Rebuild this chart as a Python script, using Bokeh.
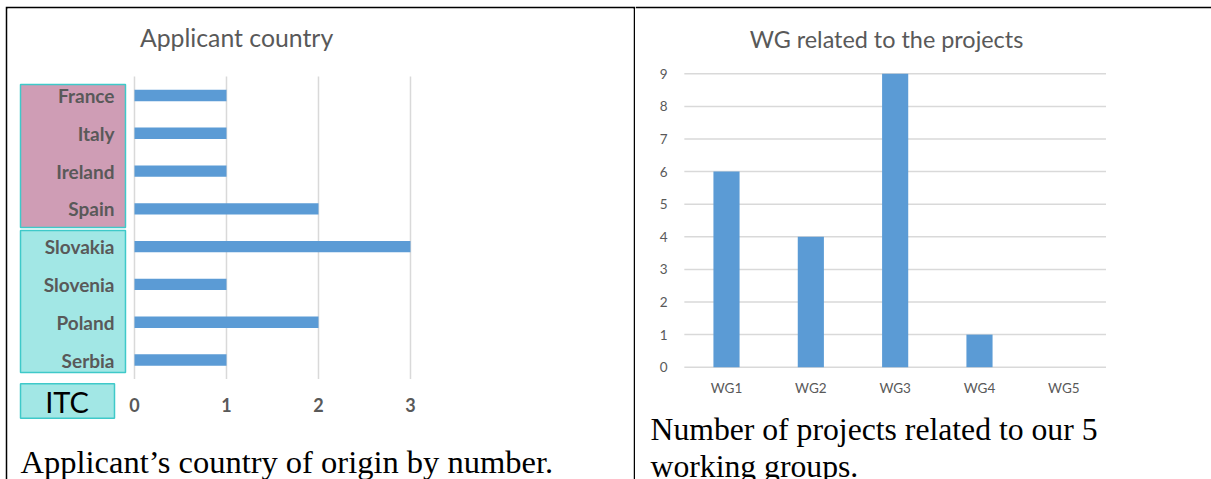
from bokeh.plotting import figure
from bokeh.models import Range1d, Spacer
from bokeh.layouts import column, row
from bokeh.core.properties import value
from bokeh.embed import file_html
from bokeh.resources import INLINE

# ---------------- data ----------------
countries = ["France", "Italy", "Ireland", "Spain", "Slovakia", "Slovenia", "Poland", "Serbia"]
applicants = [1, 1, 1, 2, 3, 1, 2, 1]
itc_member = [False, False, False, False, True, True, True, True]
x_ticks = [0, 1, 2, 3]

wgs = ["WG1", "WG2", "WG3", "WG4", "WG5"]
projects = [6, 4, 9, 1, 0]
y_ticks = [0, 1, 2, 3, 4, 5, 6, 7, 8, 9]

left_title = "Applicant country"
left_caption = "Applicant\u2019s country of origin by number."
itc_label = "ITC"
right_title = "WG related to the projects"
right_caption = ["Number of projects related to our 5", "working groups."]

# ---------------- styles ----------------
GRAY = "#595959"
GRID = "#d9d9d9"
BLUE = "#5b9bd5"
PINK = "#cf9db5"
CYAN = "#a2e7e5"
TEAL = "#3fc9c9"
SANS = "Lato"
SERIF = "Liberation Serif"


def cell(width, height, x_range, y_range, left, right, top):
    f = figure(width=width, height=height, x_range=x_range, y_range=y_range,
               x_axis_location=None, y_axis_location=None,
               min_border_left=left, min_border_right=right,
               min_border_top=top, min_border_bottom=0,
               border_fill_color="black", background_fill_color="white",
               outline_line_color=None, toolbar_location=None, output_backend="svg")
    f.grid.visible = False
    return f


# ---------------- left cell: applicant country ----------------
pos = list(range(len(countries)))
L = cell(630, 473, Range1d(-1.3804, 5.4239), Range1d(10.1614, -2.3022), 2, 2, 2)

non_itc = [i for i, m in enumerate(itc_member) if not m]
itc = [i for i, m in enumerate(itc_member) if m]
L.quad(left=-1.239, right=-0.098, top=min(non_itc) - 0.291, bottom=max(non_itc) + 0.493,
       fill_color=PINK, line_color=TEAL, line_width=1.5)
L.quad(left=-1.239, right=-0.098, top=min(itc) - 0.428, bottom=max(itc) + 0.33,
       fill_color=CYAN, line_color=TEAL, line_width=1.5)

L.segment(x0=x_ticks, x1=x_ticks, y0=-0.5, y1=len(countries) - 0.5,
          line_color=GRID, line_width=1.5)
L.hbar(y=pos, left=0, right=applicants, height=0.3, fill_color=BLUE, line_color=None)

L.text(x=-0.2174, y=pos, text=countries, text_align="right", text_baseline="middle",
       text_font=value(SANS), text_font_style="bold", text_font_size=value("19px"),
       text_color=GRAY)
L.text(x=x_ticks, y=8.203, text=[str(t) for t in x_ticks], text_align="center",
       text_baseline="middle", text_font=value(SANS), text_font_style="bold",
       text_font_size=value("18px"), text_color=GRAY)

L.quad(left=-1.239, right=-0.2174, top=7.629, bottom=8.539,
       fill_color=CYAN, line_color=TEAL, line_width=1.5)
L.text(x=-0.734, y=8.097, text=[itc_label], text_align="center", text_baseline="middle",
       text_font=value(SANS), text_font_size=value("29px"), text_color="black")

L.text(x=1.109, y=-1.522, text=[left_title], text_align="center", text_baseline="middle",
       text_font=value(SANS), text_font_size=value("24.8px"), text_color=GRAY)
L.text(x=-1.239, y=9.704, text=[left_caption], text_align="left", text_baseline="middle",
       text_font=value(SERIF), text_font_size=value("32.5px"), text_color="black")

# ---------------- right cell: WG related to the projects ----------------
idx = list(range(len(wgs)))
R = cell(576, 473, Range1d(-1.0791, 5.7512), Range1d(-3.4448, 11.003), 0, 0, 2)

R.segment(x0=-0.5, x1=len(wgs) - 0.5, y0=y_ticks, y1=y_ticks, line_color=GRID, line_width=1.5)
R.vbar(x=idx, bottom=0, top=projects, width=0.31, fill_color=BLUE, line_color=None)

R.text(x=-0.70, y=y_ticks, text=[str(t) for t in y_ticks], text_align="right",
       text_baseline="middle", text_font=value(SANS), text_font_size=value("13.5px"),
       text_color=GRAY)
R.text(x=idx, y=-0.653, text=wgs, text_align="center", text_baseline="middle",
       text_font=value(SANS), text_font_size=value("13.5px"), text_color=GRAY)

R.text(x=1.897, y=10.067, text=[right_title], text_align="center", text_baseline="middle",
       text_font=value(SANS), text_font_size=value("23.4px"), text_color=GRAY)
R.text(x=-0.901, y=[-1.911, -3.031], text=right_caption, text_align="left",
       text_baseline="middle", text_font=value(SERIF), text_font_size=value("31.7px"),
       text_color="black")

# ---------------- page (white gap, then table) ----------------
page = column(Spacer(width=1211, height=6),
              row(Spacer(width=5, height=473), L, R))

open("out.html", "w").write(file_html(page, INLINE))
